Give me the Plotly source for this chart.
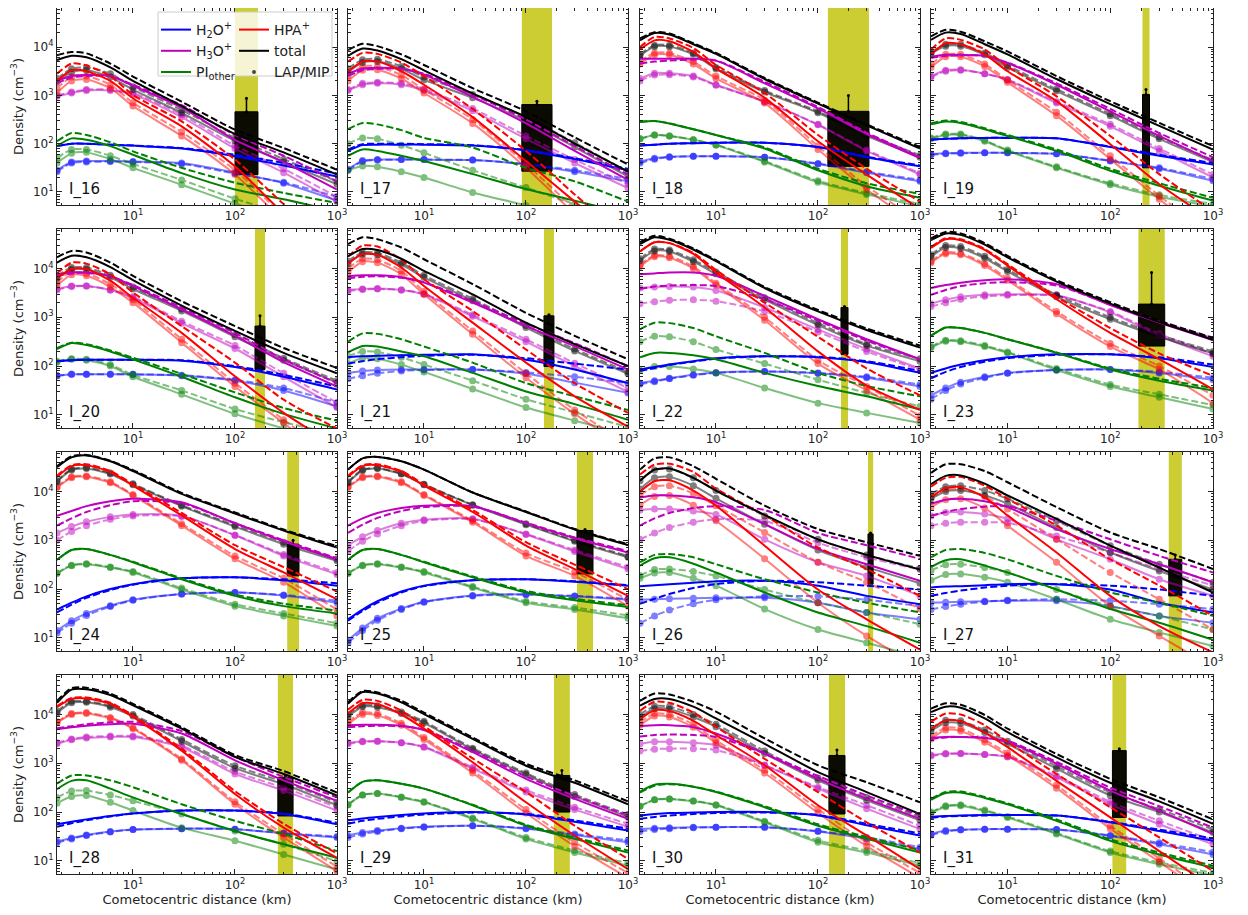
import numpy as np
import plotly.graph_objects as go
from plotly.subplots import make_subplots

PANELS = ["I_16", "I_17", "I_18", "I_19", "I_20", "I_21", "I_22", "I_23",
          "I_24", "I_25", "I_26", "I_27", "I_28", "I_29", "I_30", "I_31"]
DIST_KM = [1.8, 2.5, 3.5, 6, 10, 30, 100, 300, 1000]

# log10 density (cm^-3) at DIST_KM, one row per panel
TOTAL_SOLID = [
    [3.73, 3.82, 3.79, 3.58, 3.30, 2.78, 2.20, 1.82, 1.36],
    [3.82, 3.97, 3.93, 3.75, 3.52, 3.04, 2.55, 2.00, 1.42],
    [4.14, 4.29, 4.26, 4.06, 3.86, 3.34, 2.83, 2.38, 1.90],
    [4.15, 4.30, 4.27, 4.06, 3.85, 3.34, 2.82, 2.37, 1.88],
    [4.12, 4.26, 4.23, 4.03, 3.76, 3.24, 2.72, 2.27, 1.85],
    [4.25, 4.40, 4.38, 4.20, 3.95, 3.47, 2.89, 2.45, 2.00],
    [4.50, 4.64, 4.59, 4.39, 4.15, 3.60, 3.12, 2.74, 2.38],
    [4.58, 4.72, 4.69, 4.49, 4.23, 3.73, 3.28, 2.90, 2.54],
    [4.50, 4.70, 4.74, 4.62, 4.42, 3.95, 3.55, 3.20, 2.85],
    [4.45, 4.68, 4.71, 4.62, 4.45, 3.98, 3.58, 3.22, 2.90],
    [4.22, 4.45, 4.47, 4.28, 4.02, 3.52, 3.02, 2.70, 2.40],
    [4.15, 4.32, 4.33, 4.16, 3.92, 3.44, 2.89, 2.44, 1.93],
    [4.24, 4.51, 4.52, 4.40, 4.19, 3.71, 3.13, 2.78, 2.34],
    [4.22, 4.46, 4.43, 4.25, 4.01, 3.50, 2.95, 2.60, 2.16],
    [4.18, 4.32, 4.32, 4.16, 3.92, 3.40, 2.82, 2.41, 1.96],
    [4.05, 4.16, 4.14, 3.92, 3.64, 3.12, 2.60, 2.22, 1.76],
]
TOTAL_DASH = [
    [3.83, 3.90, 3.87, 3.66, 3.39, 2.87, 2.29, 1.91, 1.46],
    [3.94, 4.07, 4.02, 3.85, 3.63, 3.15, 2.67, 2.13, 1.57],
    [4.18, 4.31, 4.28, 4.08, 3.88, 3.36, 2.85, 2.40, 1.93],
    [4.22, 4.36, 4.32, 4.12, 3.91, 3.40, 2.88, 2.43, 1.95],
    [4.23, 4.36, 4.33, 4.12, 3.85, 3.33, 2.82, 2.37, 1.96],
    [4.50, 4.64, 4.60, 4.43, 4.19, 3.68, 3.09, 2.62, 2.14],
    [4.54, 4.67, 4.61, 4.41, 4.17, 3.62, 3.15, 2.77, 2.42],
    [4.62, 4.75, 4.72, 4.52, 4.26, 3.76, 3.31, 2.93, 2.58],
    [4.52, 4.72, 4.75, 4.63, 4.44, 3.97, 3.57, 3.22, 2.88],
    [4.45, 4.68, 4.71, 4.62, 4.45, 3.98, 3.59, 3.23, 2.92],
    [4.45, 4.68, 4.70, 4.52, 4.26, 3.71, 3.23, 2.96, 2.68],
    [4.38, 4.56, 4.56, 4.42, 4.19, 3.68, 3.16, 2.82, 2.41],
    [4.28, 4.54, 4.55, 4.43, 4.22, 3.74, 3.17, 2.84, 2.40],
    [4.25, 4.48, 4.45, 4.28, 4.04, 3.53, 2.99, 2.65, 2.22],
    [4.28, 4.43, 4.41, 4.26, 4.06, 3.51, 2.96, 2.61, 2.20],
    [4.12, 4.23, 4.20, 3.99, 3.71, 3.19, 2.68, 2.30, 1.85],
]
TOTAL_MK_SOLID = [
    [3.28, 3.48, 3.52, 3.38, 3.12, 2.64, 2.06, 1.62, 1.16],
    [3.48, 3.68, 3.70, 3.55, 3.32, 2.95, 2.47, 1.93, 1.32],
    [3.82, 4.01, 4.01, 3.85, 3.55, 3.07, 2.64, 2.16, 1.72],
    [3.86, 4.02, 4.02, 3.84, 3.58, 3.09, 2.58, 2.10, 1.62],
    [3.80, 3.98, 3.98, 3.82, 3.58, 3.13, 2.60, 2.12, 1.66],
    [4.10, 4.29, 4.28, 4.08, 3.82, 3.34, 2.79, 2.31, 1.84],
    [4.16, 4.36, 4.35, 4.14, 3.89, 3.36, 2.84, 2.42, 2.10],
    [4.24, 4.43, 4.41, 4.21, 3.94, 3.42, 2.96, 2.60, 2.26],
    [4.20, 4.44, 4.47, 4.36, 4.14, 3.70, 3.28, 2.92, 2.58],
    [4.18, 4.43, 4.47, 4.36, 4.14, 3.72, 3.32, 2.98, 2.65],
    [4.05, 4.28, 4.30, 4.12, 3.86, 3.33, 2.80, 2.45, 2.12],
    [3.85, 4.00, 4.02, 3.92, 3.75, 3.26, 2.75, 2.37, 1.99],
    [4.03, 4.24, 4.25, 4.15, 3.97, 3.45, 2.90, 2.57, 2.14],
    [3.96, 4.16, 4.15, 4.02, 3.83, 3.28, 2.77, 2.32, 1.90],
    [3.94, 4.12, 4.11, 3.95, 3.75, 3.20, 2.65, 2.24, 1.83],
    [3.66, 3.83, 3.82, 3.63, 3.40, 2.89, 2.34, 2.00, 1.58],
]
TOTAL_MK_DASH = [
    [3.35, 3.55, 3.58, 3.45, 3.18, 2.70, 2.12, 1.68, 1.22],
    [3.55, 3.74, 3.75, 3.60, 3.38, 3.02, 2.55, 2.02, 1.42],
    [3.85, 4.04, 4.04, 3.88, 3.58, 3.10, 2.67, 2.20, 1.76],
    [3.90, 4.06, 4.06, 3.88, 3.62, 3.13, 2.62, 2.14, 1.66],
    [3.85, 4.02, 4.02, 3.86, 3.62, 3.17, 2.64, 2.16, 1.70],
    [4.15, 4.33, 4.32, 4.12, 3.86, 3.38, 2.83, 2.35, 1.88],
    [4.20, 4.40, 4.38, 4.18, 3.93, 3.40, 2.88, 2.45, 2.15],
    [4.28, 4.47, 4.45, 4.25, 3.98, 3.46, 3.00, 2.64, 2.30],
    [4.22, 4.46, 4.49, 4.38, 4.16, 3.72, 3.31, 2.96, 2.62],
    [4.20, 4.45, 4.48, 4.37, 4.15, 3.73, 3.34, 3.00, 2.68],
    [4.22, 4.44, 4.46, 4.28, 4.02, 3.50, 3.02, 2.70, 2.42],
    [3.95, 4.10, 4.12, 4.02, 3.85, 3.40, 2.89, 2.51, 2.14],
    [4.07, 4.27, 4.27, 4.18, 4.00, 3.49, 2.95, 2.62, 2.20],
    [4.00, 4.19, 4.18, 4.05, 3.86, 3.31, 2.80, 2.36, 1.95],
    [4.00, 4.17, 4.16, 4.00, 3.80, 3.25, 2.70, 2.30, 1.90],
    [3.72, 3.88, 3.87, 3.68, 3.45, 2.94, 2.40, 2.06, 1.64],
]
HPA_SOLID = [
    [3.30, 3.52, 3.50, 3.30, 2.94, 2.36, 1.53, 0.55, -0.40],
    [3.50, 3.70, 3.70, 3.50, 3.22, 2.55, 1.64, 0.80, -0.10],
    [3.95, 4.14, 4.12, 3.90, 3.56, 2.95, 2.05, 1.36, 0.65],
    [3.85, 4.08, 4.06, 3.85, 3.50, 2.88, 1.99, 1.16, 0.40],
    [3.80, 3.99, 3.99, 3.75, 3.40, 2.68, 1.79, 1.04, 0.35],
    [4.10, 4.30, 4.28, 4.02, 3.64, 2.89, 2.07, 1.38, 0.76],
    [4.35, 4.54, 4.52, 4.30, 3.92, 3.20, 2.30, 1.60, 1.10],
    [4.42, 4.60, 4.58, 4.38, 4.06, 3.37, 2.68, 2.14, 1.52],
    [4.30, 4.52, 4.54, 4.40, 4.12, 3.51, 2.82, 2.34, 1.79],
    [4.30, 4.52, 4.54, 4.40, 4.12, 3.58, 2.89, 2.41, 1.86],
    [4.00, 4.21, 4.23, 4.02, 3.71, 2.89, 1.99, 1.38, 0.76],
    [3.88, 4.07, 4.09, 3.88, 3.51, 2.75, 1.86, 1.24, 0.70],
    [4.15, 4.32, 4.33, 4.22, 3.95, 3.26, 2.37, 1.68, 1.06],
    [4.02, 4.23, 4.21, 4.00, 3.71, 3.02, 2.20, 1.52, 0.83],
    [3.90, 4.09, 4.07, 3.87, 3.58, 2.96, 2.14, 1.52, 0.83],
    [3.70, 3.88, 3.86, 3.63, 3.33, 2.64, 1.89, 1.20, 0.45],
]
HPA_DASH = [
    [3.45, 3.66, 3.62, 3.40, 3.01, 2.46, 1.67, 0.75, -0.20],
    [3.70, 3.88, 3.86, 3.68, 3.40, 2.72, 1.85, 0.95, 0.00],
    [4.00, 4.21, 4.18, 3.98, 3.63, 3.05, 2.18, 1.48, 0.80],
    [3.95, 4.18, 4.15, 3.95, 3.60, 2.98, 2.16, 1.37, 0.60],
    [3.90, 4.12, 4.10, 3.88, 3.51, 2.82, 2.07, 1.31, 0.72],
    [4.25, 4.47, 4.45, 4.18, 3.78, 3.13, 2.34, 1.65, 1.04],
    [4.35, 4.54, 4.52, 4.32, 3.97, 3.30, 2.60, 1.95, 1.40],
    [4.44, 4.62, 4.60, 4.40, 4.09, 3.42, 2.78, 2.26, 1.80],
    [4.32, 4.54, 4.56, 4.42, 4.15, 3.56, 2.90, 2.45, 1.95],
    [4.32, 4.54, 4.56, 4.42, 4.15, 3.62, 2.96, 2.50, 2.00],
    [4.35, 4.55, 4.57, 4.40, 4.06, 3.51, 2.85, 2.41, 1.86],
    [4.10, 4.28, 4.30, 4.12, 3.85, 3.30, 2.61, 2.07, 1.45],
    [4.17, 4.34, 4.35, 4.24, 3.98, 3.30, 2.43, 1.76, 1.15],
    [4.10, 4.30, 4.28, 4.08, 3.76, 3.10, 2.41, 1.72, 1.04],
    [4.08, 4.26, 4.24, 4.04, 3.75, 3.09, 2.41, 1.79, 1.17],
    [3.85, 4.02, 4.00, 3.78, 3.44, 2.78, 2.10, 1.48, 0.79],
]
HPA_MK_SOLID = [
    [3.05, 3.30, 3.33, 3.15, 2.78, 2.16, 1.36, 0.40, -0.60],
    [3.30, 3.52, 3.53, 3.35, 3.05, 2.42, 1.50, 0.55, -0.40],
    [3.65, 3.84, 3.84, 3.65, 3.35, 2.84, 1.88, 1.05, 0.30],
    [3.58, 3.80, 3.80, 3.60, 3.27, 2.58, 1.68, 0.85, 0.00],
    [3.65, 3.87, 3.85, 3.62, 3.30, 2.48, 1.58, 0.83, 0.00],
    [3.92, 4.14, 4.12, 3.88, 3.47, 2.65, 1.76, 1.02, 0.30],
    [4.04, 4.24, 4.22, 4.00, 3.66, 2.94, 2.05, 1.50, 0.90],
    [4.12, 4.30, 4.28, 4.06, 3.76, 3.07, 2.40, 1.93, 1.24],
    [4.08, 4.28, 4.30, 4.18, 3.92, 3.30, 2.62, 2.14, 1.45],
    [4.08, 4.28, 4.30, 4.18, 3.92, 3.37, 2.68, 2.27, 1.65],
    [3.72, 3.90, 3.92, 3.72, 3.40, 2.62, 1.72, 1.04, 0.40],
    [3.68, 3.83, 3.85, 3.66, 3.30, 2.55, 1.65, 1.04, 0.40],
    [3.83, 4.00, 4.02, 3.92, 3.71, 3.06, 2.16, 1.48, 0.79],
    [3.80, 4.00, 3.98, 3.78, 3.49, 2.80, 1.98, 1.30, 0.65],
    [3.78, 3.97, 3.95, 3.74, 3.42, 2.80, 1.98, 1.30, 0.65],
    [3.50, 3.68, 3.66, 3.43, 3.16, 2.49, 1.66, 0.98, 0.20],
]
HPA_MK_DASH = [
    [3.15, 3.38, 3.40, 3.22, 2.85, 2.24, 1.45, 0.50, -0.50],
    [3.40, 3.60, 3.60, 3.42, 3.12, 2.50, 1.58, 0.65, -0.30],
    [3.70, 3.88, 3.88, 3.70, 3.40, 2.90, 1.95, 1.12, 0.40],
    [3.65, 3.85, 3.85, 3.65, 3.32, 2.65, 1.75, 0.92, 0.10],
    [3.72, 3.93, 3.90, 3.68, 3.36, 2.55, 1.65, 0.90, 0.10],
    [4.00, 4.20, 4.18, 3.95, 3.53, 2.72, 1.85, 1.10, 0.40],
    [4.08, 4.27, 4.25, 4.04, 3.70, 3.00, 2.12, 1.58, 0.98],
    [4.15, 4.33, 4.31, 4.10, 3.80, 3.12, 2.46, 2.00, 1.40],
    [4.10, 4.30, 4.32, 4.20, 3.94, 3.34, 2.68, 2.22, 1.58],
    [4.10, 4.30, 4.32, 4.20, 3.94, 3.40, 2.74, 2.35, 1.78],
    [3.92, 4.10, 4.12, 3.96, 3.71, 3.16, 2.55, 2.14, 1.59],
    [3.88, 4.04, 4.06, 3.90, 3.64, 3.02, 2.34, 1.79, 1.17],
    [3.85, 4.02, 4.04, 3.94, 3.73, 3.09, 2.21, 1.55, 0.88],
    [3.85, 4.04, 4.02, 3.82, 3.53, 2.85, 2.05, 1.38, 0.75],
    [3.84, 4.02, 4.00, 3.80, 3.47, 2.86, 2.06, 1.38, 0.75],
    [3.55, 3.73, 3.71, 3.48, 3.21, 2.55, 1.72, 1.05, 0.30],
]
H3O_SOLID = [
    [3.30, 3.40, 3.42, 3.40, 3.20, 2.75, 2.08, 1.62, 1.05],
    [3.45, 3.55, 3.57, 3.55, 3.43, 2.97, 2.42, 1.85, 1.25],
    [3.76, 3.76, 3.76, 3.76, 3.72, 3.25, 2.73, 2.20, 1.70],
    [3.80, 3.84, 3.84, 3.82, 3.67, 3.22, 2.67, 2.16, 1.64],
    [3.88, 3.92, 3.92, 3.84, 3.64, 3.16, 2.62, 2.08, 1.58],
    [3.84, 3.86, 3.86, 3.82, 3.71, 3.30, 2.82, 2.41, 1.93],
    [3.88, 3.90, 3.92, 3.92, 3.85, 3.44, 2.96, 2.55, 2.14],
    [3.60, 3.66, 3.71, 3.76, 3.78, 3.68, 3.25, 2.89, 2.53],
    [3.50, 3.60, 3.70, 3.80, 3.85, 3.78, 3.35, 2.98, 2.60],
    [3.30, 3.45, 3.56, 3.66, 3.71, 3.70, 3.35, 3.04, 2.75],
    [3.88, 3.92, 3.92, 3.88, 3.78, 3.33, 2.82, 2.51, 2.17],
    [3.75, 3.83, 3.85, 3.80, 3.68, 3.23, 2.82, 2.51, 2.14],
    [3.70, 3.74, 3.77, 3.80, 3.81, 3.61, 3.06, 2.65, 2.23],
    [3.78, 3.79, 3.79, 3.77, 3.68, 3.23, 2.68, 2.27, 1.86],
    [3.76, 3.78, 3.78, 3.74, 3.61, 3.20, 2.68, 2.27, 1.86],
    [3.52, 3.54, 3.54, 3.52, 3.44, 2.99, 2.44, 2.03, 1.55],
]
H3O_DASH = [
    [3.25, 3.37, 3.40, 3.40, 3.22, 2.80, 2.18, 1.75, 1.22],
    [3.40, 3.52, 3.55, 3.55, 3.45, 3.02, 2.50, 1.95, 1.36],
    [3.66, 3.70, 3.72, 3.74, 3.72, 3.28, 2.76, 2.23, 1.73],
    [3.78, 3.82, 3.83, 3.82, 3.68, 3.25, 2.72, 2.22, 1.72],
    [3.85, 3.90, 3.91, 3.84, 3.66, 3.20, 2.68, 2.14, 1.65],
    [3.80, 3.83, 3.84, 3.81, 3.72, 3.33, 2.87, 2.47, 2.00],
    [3.58, 3.63, 3.65, 3.66, 3.64, 3.37, 2.93, 2.52, 2.14],
    [3.46, 3.56, 3.64, 3.70, 3.72, 3.65, 3.26, 2.91, 2.57],
    [3.30, 3.45, 3.58, 3.72, 3.80, 3.76, 3.35, 3.00, 2.63],
    [3.15, 3.32, 3.46, 3.60, 3.68, 3.69, 3.36, 3.06, 2.78],
    [3.30, 3.45, 3.56, 3.66, 3.70, 3.62, 3.15, 2.90, 2.62],
    [3.50, 3.58, 3.64, 3.69, 3.70, 3.40, 3.02, 2.68, 2.34],
    [3.72, 3.76, 3.80, 3.84, 3.85, 3.66, 3.13, 2.72, 2.30],
    [3.74, 3.76, 3.77, 3.76, 3.69, 3.26, 2.73, 2.33, 1.93],
    [3.55, 3.58, 3.59, 3.58, 3.54, 3.20, 2.74, 2.34, 1.93],
    [3.50, 3.53, 3.54, 3.53, 3.46, 3.03, 2.50, 2.12, 1.68],
]
H3O_MK_SOLID = [
    [2.98, 3.05, 3.10, 3.10, 3.02, 2.55, 1.90, 1.40, 0.80],
    [3.10, 3.22, 3.25, 3.22, 3.10, 2.68, 2.10, 1.60, 1.08],
    [3.35, 3.46, 3.46, 3.40, 3.22, 2.87, 2.39, 1.85, 1.36],
    [3.40, 3.52, 3.53, 3.45, 3.32, 2.84, 2.36, 1.85, 1.30],
    [3.58, 3.64, 3.64, 3.56, 3.40, 2.88, 2.36, 1.78, 1.15],
    [3.56, 3.58, 3.59, 3.56, 3.47, 3.02, 2.50, 2.00, 1.47],
    [3.60, 3.62, 3.63, 3.62, 3.55, 3.20, 2.75, 2.35, 1.95],
    [3.28, 3.36, 3.42, 3.46, 3.47, 3.45, 3.10, 2.62, 2.20],
    [3.15, 3.28, 3.38, 3.48, 3.53, 3.50, 3.10, 2.68, 2.30],
    [2.90, 3.07, 3.20, 3.35, 3.42, 3.44, 3.12, 2.77, 2.41],
    [3.62, 3.64, 3.64, 3.60, 3.53, 3.02, 2.55, 2.27, 1.86],
    [3.50, 3.57, 3.58, 3.54, 3.44, 3.02, 2.61, 2.20, 1.86],
    [3.40, 3.48, 3.52, 3.54, 3.54, 3.33, 2.78, 2.44, 2.03],
    [3.42, 3.45, 3.45, 3.42, 3.33, 2.89, 2.41, 2.05, 1.70],
    [3.40, 3.44, 3.44, 3.42, 3.37, 2.96, 2.48, 2.07, 1.65],
    [3.17, 3.20, 3.20, 3.18, 3.13, 2.71, 2.16, 1.75, 1.34],
]
H3O_MK_DASH = [
    [3.00, 3.07, 3.12, 3.12, 3.05, 2.60, 1.96, 1.48, 0.90],
    [3.12, 3.25, 3.27, 3.25, 3.13, 2.73, 2.16, 1.67, 1.16],
    [3.30, 3.42, 3.43, 3.38, 3.21, 2.87, 2.40, 1.87, 1.39],
    [3.38, 3.50, 3.52, 3.45, 3.33, 2.87, 2.40, 1.90, 1.36],
    [3.56, 3.63, 3.64, 3.56, 3.42, 2.92, 2.42, 1.85, 1.25],
    [3.54, 3.57, 3.58, 3.56, 3.48, 3.05, 2.55, 2.06, 1.55],
    [3.28, 3.32, 3.35, 3.36, 3.33, 3.12, 2.70, 2.30, 1.92],
    [3.22, 3.30, 3.37, 3.43, 3.45, 3.44, 3.12, 2.66, 2.25],
    [3.00, 3.18, 3.30, 3.43, 3.50, 3.49, 3.11, 2.71, 2.34],
    [2.78, 2.98, 3.13, 3.30, 3.40, 3.43, 3.13, 2.80, 2.45],
    [3.02, 3.15, 3.26, 3.37, 3.43, 3.40, 2.95, 2.65, 2.40],
    [3.30, 3.35, 3.37, 3.37, 3.36, 3.09, 2.75, 2.41, 2.07],
    [3.42, 3.50, 3.54, 3.56, 3.56, 3.36, 2.83, 2.50, 2.10],
    [3.40, 3.44, 3.45, 3.42, 3.34, 2.92, 2.45, 2.10, 1.76],
    [3.25, 3.29, 3.30, 3.30, 3.27, 2.96, 2.51, 2.14, 1.72],
    [3.15, 3.19, 3.20, 3.18, 3.14, 2.74, 2.21, 1.82, 1.42],
]
H2O_SOLID = [
    [1.95, 2.00, 2.00, 1.98, 1.96, 1.90, 1.74, 1.55, 1.32],
    [1.85, 1.97, 1.98, 1.98, 1.98, 1.96, 1.86, 1.68, 1.45],
    [1.96, 1.98, 2.00, 2.01, 2.02, 2.02, 1.93, 1.72, 1.53],
    [2.08, 2.10, 2.11, 2.12, 2.12, 2.11, 1.93, 1.75, 1.57],
    [2.10, 2.12, 2.13, 2.13, 2.13, 2.11, 1.98, 1.78, 1.52],
    [2.18, 2.20, 2.21, 2.22, 2.23, 2.24, 2.13, 1.93, 1.65],
    [1.93, 1.98, 2.03, 2.10, 2.16, 2.20, 2.18, 2.08, 1.86],
    [1.86, 1.95, 2.03, 2.12, 2.18, 2.24, 2.24, 2.16, 1.98],
    [1.58, 1.72, 1.85, 2.00, 2.10, 2.22, 2.24, 2.18, 2.07],
    [1.38, 1.58, 1.75, 1.95, 2.07, 2.18, 2.20, 2.15, 2.07],
    [2.06, 2.08, 2.10, 2.13, 2.16, 2.17, 2.07, 1.86, 1.69],
    [2.03, 2.05, 2.06, 2.08, 2.10, 2.10, 1.99, 1.72, 1.52],
    [1.75, 1.80, 1.85, 1.92, 1.97, 2.03, 2.03, 1.96, 1.75],
    [1.83, 1.87, 1.90, 1.94, 1.97, 2.00, 1.95, 1.80, 1.62],
    [1.93, 1.96, 1.98, 1.99, 2.00, 2.00, 1.93, 1.73, 1.52],
    [1.90, 1.92, 1.93, 1.94, 1.94, 1.93, 1.79, 1.61, 1.41],
]
H2O_DASH = [
    [1.95, 2.00, 2.00, 1.98, 1.96, 1.91, 1.77, 1.60, 1.38],
    [1.88, 1.99, 2.00, 2.00, 1.99, 1.97, 1.87, 1.70, 1.48],
    [1.96, 1.98, 2.00, 2.01, 2.02, 2.02, 1.93, 1.73, 1.55],
    [2.08, 2.10, 2.11, 2.12, 2.12, 2.11, 1.94, 1.77, 1.60],
    [2.10, 2.12, 2.13, 2.13, 2.13, 2.12, 2.00, 1.82, 1.58],
    [2.05, 2.10, 2.14, 2.18, 2.21, 2.23, 2.16, 2.05, 1.93],
    [1.90, 1.96, 2.02, 2.09, 2.15, 2.20, 2.19, 2.10, 1.90],
    [1.75, 1.88, 1.98, 2.09, 2.16, 2.23, 2.24, 2.18, 2.03],
    [1.52, 1.68, 1.82, 1.98, 2.09, 2.22, 2.24, 2.20, 2.12],
    [1.35, 1.55, 1.72, 1.93, 2.06, 2.18, 2.20, 2.16, 2.08],
    [1.70, 1.80, 1.90, 2.02, 2.10, 2.17, 2.14, 2.07, 1.99],
    [1.86, 1.92, 1.97, 2.03, 2.07, 2.10, 2.07, 1.99, 1.86],
    [1.70, 1.77, 1.83, 1.91, 1.97, 2.03, 2.03, 1.97, 1.78],
    [1.76, 1.82, 1.86, 1.91, 1.95, 1.99, 1.96, 1.83, 1.66],
    [1.86, 1.90, 1.93, 1.96, 1.98, 1.99, 1.94, 1.76, 1.56],
    [1.88, 1.91, 1.92, 1.93, 1.94, 1.93, 1.80, 1.64, 1.46],
]
H2O_MK_SOLID = [
    [1.45, 1.62, 1.64, 1.64, 1.63, 1.60, 1.40, 1.18, 0.82],
    [1.47, 1.65, 1.67, 1.67, 1.67, 1.66, 1.57, 1.42, 1.22],
    [1.63, 1.70, 1.73, 1.74, 1.74, 1.72, 1.58, 1.40, 1.22],
    [1.78, 1.80, 1.81, 1.81, 1.81, 1.79, 1.64, 1.48, 1.23],
    [1.80, 1.83, 1.83, 1.83, 1.83, 1.80, 1.70, 1.50, 1.17],
    [1.86, 1.90, 1.92, 1.93, 1.93, 1.93, 1.84, 1.66, 1.45],
    [1.65, 1.70, 1.75, 1.82, 1.87, 1.89, 1.85, 1.76, 1.58],
    [1.40, 1.55, 1.67, 1.78, 1.86, 1.92, 1.93, 1.86, 1.72],
    [1.15, 1.35, 1.50, 1.66, 1.78, 1.90, 1.93, 1.87, 1.72],
    [0.95, 1.20, 1.40, 1.60, 1.74, 1.87, 1.89, 1.85, 1.78],
    [1.78, 1.79, 1.80, 1.81, 1.82, 1.82, 1.72, 1.52, 1.38],
    [1.72, 1.73, 1.74, 1.75, 1.76, 1.76, 1.65, 1.45, 1.31],
    [1.40, 1.47, 1.53, 1.60, 1.64, 1.66, 1.65, 1.56, 1.48],
    [1.52, 1.58, 1.62, 1.67, 1.70, 1.72, 1.66, 1.53, 1.38],
    [1.65, 1.67, 1.68, 1.69, 1.69, 1.69, 1.60, 1.45, 1.24],
    [1.55, 1.62, 1.64, 1.65, 1.65, 1.64, 1.51, 1.34, 1.13],
]
H2O_MK_DASH = [
    [1.42, 1.60, 1.62, 1.63, 1.62, 1.58, 1.38, 1.20, 0.90],
    [1.45, 1.63, 1.66, 1.67, 1.67, 1.66, 1.58, 1.45, 1.27],
    [1.60, 1.68, 1.72, 1.74, 1.74, 1.72, 1.59, 1.42, 1.25],
    [1.77, 1.79, 1.80, 1.81, 1.81, 1.79, 1.65, 1.50, 1.27],
    [1.80, 1.83, 1.83, 1.83, 1.83, 1.81, 1.72, 1.55, 1.25],
    [1.74, 1.80, 1.85, 1.90, 1.92, 1.93, 1.87, 1.78, 1.65],
    [1.63, 1.68, 1.74, 1.81, 1.86, 1.89, 1.86, 1.78, 1.62],
    [1.32, 1.50, 1.63, 1.76, 1.85, 1.92, 1.93, 1.88, 1.76],
    [1.10, 1.30, 1.46, 1.64, 1.77, 1.90, 1.93, 1.88, 1.76],
    [0.90, 1.15, 1.36, 1.58, 1.73, 1.86, 1.89, 1.86, 1.80],
    [1.30, 1.45, 1.57, 1.70, 1.78, 1.85, 1.85, 1.78, 1.65],
    [1.58, 1.64, 1.69, 1.74, 1.77, 1.79, 1.76, 1.69, 1.59],
    [1.37, 1.45, 1.52, 1.59, 1.64, 1.66, 1.65, 1.57, 1.50],
    [1.48, 1.55, 1.60, 1.66, 1.69, 1.72, 1.67, 1.55, 1.42],
    [1.60, 1.64, 1.66, 1.68, 1.69, 1.69, 1.61, 1.48, 1.28],
    [1.53, 1.60, 1.63, 1.65, 1.65, 1.64, 1.52, 1.37, 1.18],
]
PIO_SOLID = [
    [1.95, 2.11, 2.08, 1.95, 1.77, 1.39, 1.05, 0.85, 0.60],
    [1.75, 1.88, 1.85, 1.75, 1.64, 1.37, 1.06, 0.82, 0.55],
    [2.45, 2.47, 2.42, 2.30, 2.18, 1.90, 1.45, 1.12, 0.88],
    [2.40, 2.46, 2.43, 2.30, 2.16, 1.85, 1.44, 1.13, 0.82],
    [2.35, 2.47, 2.43, 2.30, 2.14, 1.78, 1.36, 1.02, 0.72],
    [2.28, 2.41, 2.40, 2.30, 2.20, 1.86, 1.48, 1.22, 0.90],
    [2.18, 2.27, 2.27, 2.22, 2.14, 1.86, 1.59, 1.38, 1.11],
    [2.62, 2.79, 2.78, 2.68, 2.55, 2.27, 1.93, 1.70, 1.50],
    [2.60, 2.80, 2.82, 2.70, 2.55, 2.20, 1.86, 1.65, 1.50],
    [2.60, 2.80, 2.82, 2.70, 2.55, 2.24, 1.93, 1.77, 1.63],
    [2.48, 2.63, 2.65, 2.52, 2.34, 1.93, 1.52, 1.24, 0.90],
    [2.45, 2.59, 2.61, 2.48, 2.34, 1.99, 1.59, 1.31, 0.96],
    [2.47, 2.64, 2.65, 2.48, 2.30, 1.96, 1.61, 1.34, 1.06],
    [2.40, 2.62, 2.65, 2.58, 2.48, 2.14, 1.72, 1.45, 1.17],
    [2.42, 2.56, 2.58, 2.52, 2.41, 2.10, 1.72, 1.45, 1.17],
    [2.25, 2.39, 2.40, 2.29, 2.16, 1.82, 1.41, 1.13, 0.86],
]
PIO_DASH = [
    [2.05, 2.22, 2.18, 2.03, 1.84, 1.50, 1.19, 0.98, 0.77],
    [2.30, 2.43, 2.40, 2.28, 2.12, 1.92, 1.50, 1.22, 0.80],
    [2.45, 2.47, 2.42, 2.30, 2.18, 1.92, 1.48, 1.18, 0.96],
    [2.42, 2.48, 2.45, 2.32, 2.18, 1.88, 1.48, 1.18, 0.88],
    [2.37, 2.48, 2.45, 2.32, 2.17, 1.84, 1.46, 1.14, 0.88],
    [2.50, 2.67, 2.66, 2.55, 2.40, 2.07, 1.65, 1.38, 1.10],
    [2.75, 2.89, 2.88, 2.78, 2.61, 2.27, 1.86, 1.59, 1.38],
    [2.62, 2.79, 2.78, 2.68, 2.55, 2.28, 1.95, 1.74, 1.55],
    [2.60, 2.80, 2.82, 2.70, 2.56, 2.22, 1.89, 1.70, 1.56],
    [2.60, 2.80, 2.82, 2.70, 2.56, 2.26, 1.96, 1.80, 1.67],
    [2.55, 2.70, 2.72, 2.65, 2.51, 2.20, 1.93, 1.72, 1.52],
    [2.65, 2.80, 2.82, 2.74, 2.61, 2.27, 1.93, 1.72, 1.45],
    [2.58, 2.75, 2.75, 2.65, 2.51, 2.16, 1.82, 1.55, 1.20],
    [2.40, 2.62, 2.65, 2.58, 2.48, 2.15, 1.74, 1.48, 1.21],
    [2.40, 2.54, 2.57, 2.52, 2.42, 2.12, 1.75, 1.49, 1.22],
    [2.27, 2.41, 2.42, 2.31, 2.18, 1.85, 1.44, 1.17, 0.90],
]
PIO_MK_SOLID = [
    [1.60, 1.80, 1.82, 1.68, 1.50, 1.15, 0.76, 0.45, 0.10],
    [1.45, 1.54, 1.52, 1.42, 1.30, 0.99, 0.72, 0.45, 0.20],
    [2.10, 2.18, 2.16, 2.08, 1.97, 1.62, 1.20, 0.95, 0.70],
    [2.10, 2.18, 2.18, 2.05, 1.85, 1.50, 1.15, 0.90, 0.70],
    [2.08, 2.14, 2.12, 2.00, 1.78, 1.42, 1.02, 0.72, 0.40],
    [2.05, 2.16, 2.15, 2.03, 1.88, 1.53, 1.15, 0.88, 0.60],
    [1.92, 1.99, 1.99, 1.94, 1.86, 1.55, 1.24, 1.04, 0.83],
    [2.38, 2.51, 2.50, 2.40, 2.27, 1.92, 1.58, 1.36, 1.12],
    [2.32, 2.48, 2.51, 2.44, 2.34, 1.99, 1.65, 1.45, 1.24],
    [2.32, 2.48, 2.51, 2.44, 2.34, 2.03, 1.72, 1.58, 1.40],
    [2.22, 2.33, 2.34, 2.22, 2.07, 1.59, 1.17, 0.90, 0.60],
    [2.18, 2.30, 2.31, 2.24, 2.14, 1.79, 1.38, 1.11, 0.83],
    [2.18, 2.32, 2.34, 2.20, 2.03, 1.68, 1.41, 1.13, 0.82],
    [2.15, 2.35, 2.38, 2.30, 2.20, 1.86, 1.45, 1.17, 0.90],
    [2.12, 2.25, 2.27, 2.22, 2.14, 1.79, 1.38, 1.17, 0.90],
    [1.98, 2.11, 2.13, 2.02, 1.89, 1.55, 1.17, 0.93, 0.70],
]
PIO_MK_DASH = [
    [1.70, 1.88, 1.88, 1.75, 1.58, 1.25, 0.86, 0.55, 0.20],
    [2.00, 2.12, 2.10, 1.97, 1.81, 1.45, 1.09, 0.75, 0.45],
    [2.10, 2.18, 2.16, 2.08, 1.98, 1.64, 1.23, 0.98, 0.75],
    [2.12, 2.20, 2.20, 2.07, 1.87, 1.52, 1.18, 0.94, 0.75],
    [2.10, 2.15, 2.14, 2.03, 1.82, 1.50, 1.12, 0.85, 0.60],
    [2.20, 2.30, 2.29, 2.18, 2.03, 1.70, 1.32, 1.05, 0.75],
    [2.50, 2.61, 2.60, 2.50, 2.34, 2.05, 1.72, 1.45, 1.17],
    [2.40, 2.53, 2.52, 2.42, 2.29, 1.95, 1.62, 1.42, 1.20],
    [2.33, 2.49, 2.52, 2.45, 2.36, 2.02, 1.69, 1.50, 1.30],
    [2.33, 2.49, 2.52, 2.45, 2.36, 2.05, 1.75, 1.62, 1.46],
    [2.28, 2.40, 2.41, 2.36, 2.27, 1.99, 1.72, 1.52, 1.28],
    [2.38, 2.50, 2.51, 2.44, 2.34, 1.99, 1.65, 1.45, 1.17],
    [2.30, 2.43, 2.44, 2.35, 2.23, 1.96, 1.61, 1.34, 0.99],
    [2.15, 2.35, 2.38, 2.31, 2.21, 1.88, 1.48, 1.21, 0.95],
    [2.12, 2.25, 2.27, 2.23, 2.15, 1.81, 1.42, 1.21, 0.95],
    [2.00, 2.13, 2.15, 2.04, 1.91, 1.57, 1.20, 0.97, 0.75],
]

# spacecraft distance range of each interval (km)
BAND_FROM_KM = [100, 91, 125, 206, 157, 150, 168, 188, 325, 316, 309, 371, 263, 188, 128, 105]
BAND_TO_KM = [168, 180, 316, 241, 197, 188, 197, 339, 424, 454, 347, 497, 371, 269, 184, 143]
# LAP/MIP measured density spread (log10 cm^-3)
LAP_LOW = [1.36, 1.43, 1.53, 1.50, 1.93, 1.99, 2.24, 2.41, 2.27, 2.31, 2.10, 1.86, 1.92, 2.00, 1.96, 1.89]
LAP_HIGH = [2.66, 2.81, 2.67, 3.02, 2.82, 3.03, 3.20, 3.27, 2.92, 3.20, 3.13, 2.61, 2.71, 2.75, 3.16, 3.26]
LAP_PEAK = [2.94, 2.88, 3.00, 3.12, 3.03, 3.05, 3.22, 3.92, 3.00, 3.22, 3.15, 2.70, 2.75, 2.85, 3.27, 3.30]

SPECIES = [
    # name, colour, solid, dashed, marker-solid, marker-dashed
    ("H<sub>2</sub>O<sup>+</sup>", "#0000ff", H2O_SOLID, H2O_DASH, H2O_MK_SOLID, H2O_MK_DASH),
    ("H<sub>3</sub>O<sup>+</sup>", "#bf00bf", H3O_SOLID, H3O_DASH, H3O_MK_SOLID, H3O_MK_DASH),
    ("PI<sub>other</sub>", "#008000", PIO_SOLID, PIO_DASH, PIO_MK_SOLID, PIO_MK_DASH),
    ("HPA<sup>+</sup>", "#ff0000", HPA_SOLID, HPA_DASH, HPA_MK_SOLID, HPA_MK_DASH),
    ("total", "#000000", TOTAL_SOLID, TOTAL_DASH, TOTAL_MK_SOLID, TOTAL_MK_DASH),
]

# page layout (browser pixels); the page body adds an 8 px margin
OFF = 8
W, H = 1248 - 2 * OFF, 915 - 2 * OFF
COL_PX = [(57, 337), (348, 628), (640, 920), (931, 1213)]
ROW_PX = [(8, 205), (229, 428), (452, 651), (675, 874)]
XR = [np.log10(1.8), 3.0]
YR = [0.73, 4.81]
FONT = "DejaVu Sans"
DASH = "7px,3px"


def px(xp):
    return min(1.0, max(0.0, (xp - OFF) / W))


def py(yp):
    return min(1.0, max(0.0, 1 - (yp - OFF) / H))


fig = make_subplots(rows=4, cols=4)
minor_x = [m * 10 ** e for e in range(0, 4) for m in range(2, 10)]
minor_y = [m * 10 ** e for e in range(0, 5) for m in range(2, 10)]

for i, name in enumerate(PANELS):
    r, c = divmod(i, 4)
    row, col = r + 1, c + 1
    a, b = BAND_FROM_KM[i], BAND_TO_KM[i]
    lo, hi = 10 ** LAP_LOW[i], 10 ** LAP_HIGH[i]
    # LAP/MIP cloud
    fig.add_trace(go.Scatter(
        x=[a, a, b, b, a], y=[lo, hi, hi, lo, lo], mode="lines", fill="toself",
        fillcolor="rgba(0,0,0,0.95)", line=dict(color="black", width=1),
        showlegend=False, hoverinfo="skip"), row=row, col=col)
    mid = np.sqrt(a * b)
    fig.add_trace(go.Scatter(
        x=[mid, mid], y=[hi, 10 ** LAP_PEAK[i]], mode="lines+markers",
        line=dict(color="black", width=1.5), marker=dict(color="black", size=3),
        showlegend=False, hoverinfo="skip"), row=row, col=col)
    for _, color, s_solid, s_dash, s_mks, s_mkd in SPECIES:
        for data, dash in ((s_mks, "solid"), (s_mkd, DASH)):
            fig.add_trace(go.Scatter(
                x=DIST_KM, y=10 ** np.array(data[i]), mode="lines+markers",
                line=dict(color=color, width=2, dash=dash, shape="spline", smoothing=0.7),
                marker=dict(color=color, size=7),
                opacity=0.5, showlegend=False, hoverinfo="skip"), row=row, col=col)
    for _, color, s_solid, s_dash, s_mks, s_mkd in SPECIES:
        for data, dash in ((s_solid, "solid"), (s_dash, DASH)):
            fig.add_trace(go.Scatter(
                x=DIST_KM, y=10 ** np.array(data[i]), mode="lines",
                line=dict(color=color, width=2, dash=dash, shape="spline", smoothing=0.7),
                showlegend=False, hoverinfo="skip"), row=row, col=col)

    n = i + 1
    xa = "xaxis" if n == 1 else f"xaxis{n}"
    ya = "yaxis" if n == 1 else f"yaxis{n}"
    x0, x1 = COL_PX[c]
    t, btm = ROW_PX[r]
    common = dict(type="log", showgrid=False, zeroline=False, showline=True,
                  linecolor="#222", linewidth=1, mirror="allticks", ticks="inside",
                  ticklen=5, tickwidth=1, tickcolor="#222", automargin=False,
                  tickfont=dict(family=FONT, size=12, color="#222"))
    fig.layout[xa].update(
        domain=[px(x0), px(x1)], range=XR, tickmode="array",
        tickvals=[10, 100, 1000],
        ticktext=["10<sup>1</sup>", "10<sup>2</sup>", "10<sup>3</sup>"],
        minor=dict(ticks="inside", ticklen=2.5, tickcolor="#222",
                   tickmode="array", tickvals=minor_x, showgrid=False),
        title=dict(text="Cometocentric distance (km)" if r == 3 else "",
                   font=dict(family=FONT, size=13, color="#222"), standoff=4),
        **common)
    fig.layout[ya].update(
        domain=[py(btm), py(t)], range=YR, tickmode="array",
        tickvals=[10, 100, 1000, 10000],
        ticktext=["10<sup>1</sup>", "10<sup>2</sup>", "10<sup>3</sup>", "10<sup>4</sup>"],
        showticklabels=(c == 0),
        minor=dict(ticks="inside", ticklen=2.5, tickcolor="#222",
                   tickmode="array", tickvals=minor_y, showgrid=False),
        title=dict(text="Density (cm<sup>−3</sup>)" if c == 0 else "",
                   font=dict(family=FONT, size=13, color="#222"), standoff=6),
        **common)
    xref = "x" if n == 1 else f"x{n}"
    yref = "y" if n == 1 else f"y{n}"
    fig.add_shape(type="rect", xref=xref, yref=f"{yref} domain",
                  x0=a, x1=b, y0=0, y1=1,
                  fillcolor="rgba(191,191,0,0.8)", line=dict(width=0), layer="below")
    fig.add_annotation(text=name, xref=f"{xref} domain", yref=f"{yref} domain",
                       x=0.035, y=0.02, xanchor="left", yanchor="bottom", showarrow=False,
                       font=dict(family=FONT, size=15, color="#111"))

# legend entries
for k, (label, color, *_rest) in enumerate(SPECIES):
    fig.add_trace(go.Scatter(x=[None], y=[None], mode="lines", name=label,
                             line=dict(color=color, width=2),
                             legend="legend" if k < 3 else "legend2"), row=1, col=1)
fig.add_trace(go.Scatter(x=[None], y=[None], mode="markers", name="LAP/MIP",
                         marker=dict(color="rgba(0,0,0,0.7)", size=4),
                         legend="legend2"), row=1, col=1)

fig.add_shape(type="rect", xref="paper", yref="paper",
              x0=px(158), x1=px(332), y0=py(76), y1=py(12),
              fillcolor="rgba(255,255,255,0.8)", line=dict(color="#cccccc", width=1),
              layer="above")

leg = dict(bgcolor="rgba(0,0,0,0)", borderwidth=0, font=dict(family=FONT, size=14, color="#222"),
           xanchor="left", yanchor="top", itemwidth=30, tracegroupgap=0)
fig.update_layout(
    width=W, height=H, margin=dict(l=0, r=0, t=0, b=0),
    paper_bgcolor="white", plot_bgcolor="white",
    font=dict(family=FONT, size=12, color="#222"),
    legend=dict(x=px(156), y=py(14), **leg),
    legend2=dict(x=px(234), y=py(14), **leg),
    hovermode=False,
)

fig.write_html("out.html")
